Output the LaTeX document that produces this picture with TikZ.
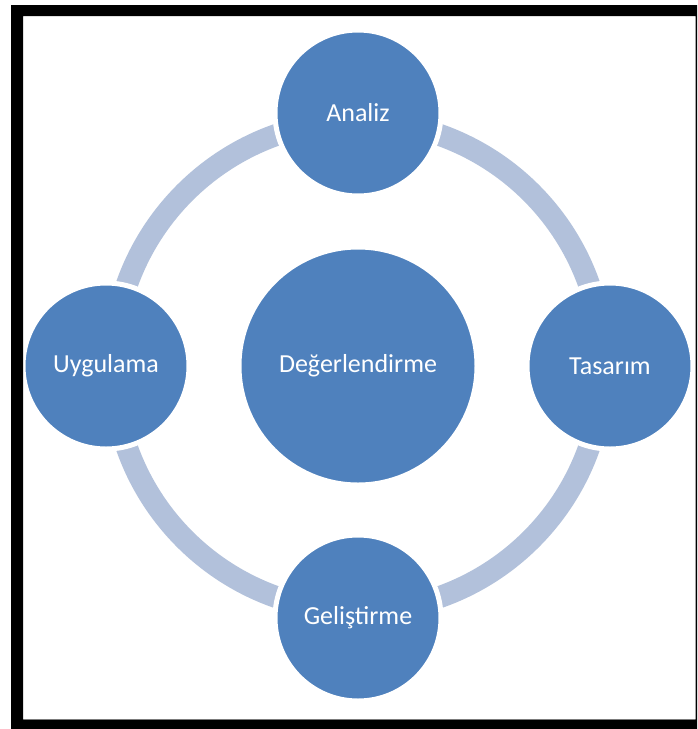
\documentclass[tikz,border=0pt]{standalone}
\usepackage{fontspec}
\setmainfont{Carlito}
\definecolor{nodeblue}{HTML}{4F81BD}
\definecolor{ringblue}{HTML}{B2C1DB}
\begin{document}
\begin{tikzpicture}[x=1pt,y=-1pt,
  stage/.style={circle, fill=nodeblue, draw=white, line width=5pt,
    text=white, inner sep=0pt, font=\fontsize{26}{30}\selectfont},
  satellite/.style={stage, minimum size=166pt},
  hub/.style={stage, minimum size=238pt}]
  \useasboundingbox (0,0) rectangle (697,729);
  % page background
  \fill[white] (23,16) rectangle (695.5,719.5);
  \draw[black!25, line width=0.8pt] (23,719.3) -- (695.5,719.3);
  % cycle ring
  \draw[ringblue, line width=22pt] (358,366) circle[radius=245];
  % stages
  \node[hub] (eval) at (358,366) {Değerlendirme};
  \node[satellite] (analiz) at (358,113) {Analiz};
  \node[satellite] (tasarim) at (610,366) {Tasarım};
  \node[satellite] (gelistirme) at (358,618) {Geliştirme};
  \node[satellite] (uygulama) at (106,366) {Uygulama};
  % page frame, drawn last so it stays on top
  \fill[black, even odd rule] (11,5) rectangle (697,729)
    (23,16) rectangle (695.5,719.5);
\end{tikzpicture}
\end{document}
